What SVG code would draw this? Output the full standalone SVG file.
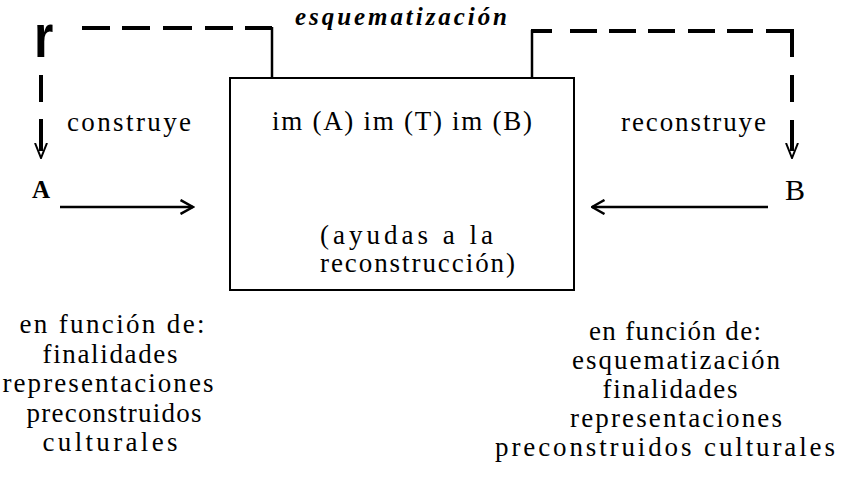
<svg xmlns="http://www.w3.org/2000/svg" width="841" height="483" viewBox="0 0 841 483">
<style>
.t{font-family:'Liberation Serif','Times New Roman',serif;font-size:27px;fill:#000}
.dash{stroke:#000;stroke-width:4;fill:none}
.thin{stroke:#000;stroke-width:2.5;fill:none}
</style>
<defs>
<marker id="chev" markerUnits="userSpaceOnUse" viewBox="0 0 15 16" refX="13.5" refY="8" markerWidth="15" markerHeight="16" orient="auto">
<path d="M1,1 L13.5,8 L1,15" stroke="#000" stroke-width="2.5" fill="none"/>
</marker>
<marker id="vhead" markerUnits="userSpaceOnUse" viewBox="0 0 16 14" refX="8" refY="7" markerWidth="16" markerHeight="14" orient="auto">
<path d="M0,1 L15,7 L0,13" stroke="#000" stroke-width="2" fill="none"/>
</marker>
</defs>
<rect width="841" height="483" fill="#fff"/>
<text class="t" x="401" y="25" text-anchor="middle" textLength="212" style="font-weight:bold;font-style:italic;font-size:25px">esquematización</text>
<g id="node-box">
<rect x="230" y="78" width="344" height="212" fill="none" stroke="#000" stroke-width="2"/>
<text class="t" x="272" y="130" textLength="260">im (A) im (T) im (B)</text>
<text class="t" x="320" y="244" textLength="173">(ayudas a la</text>
<text class="t" x="320" y="272" textLength="195">reconstrucción)</text>
</g>
<g id="node-a">
<text class="t" x="67" y="131" textLength="124">construye</text>
<text class="t" x="32" y="198" style="font-weight:bold;font-size:25px">A</text>
</g>
<g id="node-b">
<text class="t" x="621" y="131" textLength="145">reconstruye</text>
<text class="t" x="785" y="200" style="font-size:30px">B</text>
</g>
<g id="left-notes" text-anchor="middle">
<text class="t" x="112" y="333" textLength="185">en función de:</text>
<text class="t" x="110" y="363" textLength="135">finalidades</text>
<text class="t" x="108" y="392" textLength="211">representaciones</text>
<text class="t" x="114" y="422" textLength="175">preconstruidos</text>
<text class="t" x="110" y="451" textLength="135">culturales</text>
</g>
<g id="right-notes" text-anchor="middle">
<text class="t" x="675" y="340" textLength="172">en función de:</text>
<text class="t" x="676" y="369" textLength="208">esquematización</text>
<text class="t" x="670" y="398" textLength="135">finalidades</text>
<text class="t" x="676" y="427" textLength="212">representaciones</text>
<text class="t" x="665" y="456" textLength="340">preconstruidos culturales</text>
</g>
<g id="connectors">
<g id="schema-left">
<path class="dash" d="M82,28 H110 M122,28 H150 M163,28 H192 M205,28 H233 M245,28 H272"/>
<path class="dash" d="M41,75 V102 M41,119 V151" marker-end="url(#vhead)"/>
<path class="thin" d="M272,27 V78"/>
<text x="34" y="57" transform="translate(34 0) scale(0.8 1) translate(-34 0)" fill="#000" style="font-family:'Liberation Sans',sans-serif;font-weight:bold;font-size:62px">r</text>
</g>
<g id="schema-right">
<path class="thin" d="M532,30 V78"/>
<path class="dash" d="M531,31 H552 M570,31 H597 M609,31 H636 M648,31 H675 M688,31 H715 M727,31 H753 M766,31 H794 M792,31 V57 M792,75 V102 M792,120 V151" marker-end="url(#vhead)"/>
</g>
<path id="arrow-a" class="thin" d="M60,207 H193" marker-end="url(#chev)"/>
<path id="arrow-b" class="thin" d="M768,207 H592" marker-end="url(#chev)"/>
</g>
</svg>
